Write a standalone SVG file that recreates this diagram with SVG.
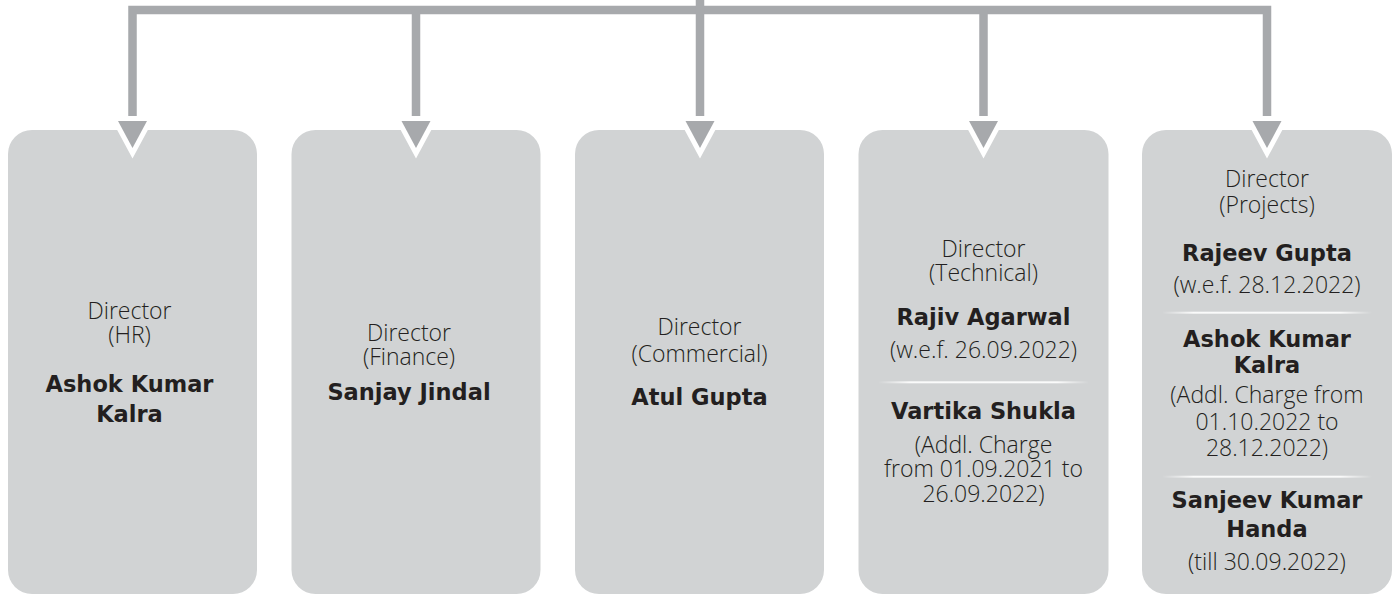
<svg xmlns="http://www.w3.org/2000/svg" xmlns:xlink="http://www.w3.org/1999/xlink" width="1396" height="595" viewBox="0 0 1396 595">
  <style>
    .box { fill: #d1d3d4; }
    .conn { fill: none; stroke: #a7a9ac; stroke-width: 8.5; stroke-linejoin: miter; stroke-linecap: butt; }
    .ah { fill: #a7a9ac; stroke: #ffffff; stroke-width: 10; stroke-linejoin: miter; paint-order: stroke fill; }
    .t { font-family: "Open Sans", "Noto Sans", sans-serif; font-weight: 300; font-size: 23px; fill: #231f20; text-anchor: middle; }
    .b { font-family: "DejaVu Sans", "Liberation Sans", sans-serif; font-weight: bold; font-size: 22.5px; fill: #231f20; text-anchor: middle; }
    .sep { fill: url(#sepg); }
  </style>
  <defs>
    <linearGradient id="sepg" x1="0" y1="0" x2="1" y2="0">
      <stop offset="0" stop-color="#ffffff" stop-opacity="0"/>
      <stop offset="0.15" stop-color="#ffffff" stop-opacity="0.9"/>
      <stop offset="0.85" stop-color="#ffffff" stop-opacity="0.9"/>
      <stop offset="1" stop-color="#ffffff" stop-opacity="0"/>
    </linearGradient>
    <path id="arrowhead" class="ah" d="M -14.5 0 L 14.5 0 L 0 27 Z"/>
  </defs>

  <g id="node-hr">
    <rect class="box" x="8" y="130" width="249" height="464" rx="24" ry="24"/>
    <text class="t" x="129.5" y="319.3">Director</text>
    <text class="t" x="129.5" y="343.3">(HR)</text>
    <text class="b" x="129.5" y="391.7">Ashok Kumar</text>
    <text class="b" x="129.5" y="421.7">Kalra</text>
  </g>

  <g id="node-finance">
    <rect class="box" x="291.5" y="130" width="249" height="464" rx="24" ry="24"/>
    <text class="t" x="409" y="340.7">Director</text>
    <text class="t" x="409" y="365">(Finance)</text>
    <text class="b" x="409" y="400">Sanjay Jindal</text>
  </g>

  <g id="node-commercial">
    <rect class="box" x="575" y="130" width="249" height="464" rx="24" ry="24"/>
    <text class="t" x="699.5" y="335">Director</text>
    <text class="t" x="699.5" y="362">(Commercial)</text>
    <text class="b" x="699.5" y="405">Atul Gupta</text>
  </g>

  <g id="node-technical">
    <rect class="box" x="858.5" y="130" width="250" height="464" rx="24" ry="24"/>
    <text class="t" x="983.5" y="256.7">Director</text>
    <text class="t" x="983.5" y="280.7">(Technical)</text>
    <text class="b" x="983.5" y="325">Rajiv Agarwal</text>
    <text class="t" x="983.5" y="358.3">(w.e.f. 26.09.2022)</text>
    <rect class="sep" x="878" y="381.3" width="211" height="2"/>
    <text class="b" x="983.5" y="419.3">Vartika Shukla</text>
    <text class="t" x="983.5" y="452.7">(Addl. Charge</text>
    <text class="t" x="983.5" y="477.3">from 01.09.2021 to</text>
    <text class="t" x="983.5" y="501.7">26.09.2022)</text>
  </g>

  <g id="node-projects">
    <rect class="box" x="1142" y="130" width="250" height="464" rx="24" ry="24"/>
    <text class="t" x="1267" y="187.3">Director</text>
    <text class="t" x="1267" y="213.3">(Projects)</text>
    <text class="b" x="1267" y="261">Rajeev Gupta</text>
    <text class="t" x="1267" y="293.3">(w.e.f. 28.12.2022)</text>
    <rect class="sep" x="1162" y="311.7" width="210" height="2"/>
    <text class="b" x="1267" y="346.7">Ashok Kumar</text>
    <text class="b" x="1267" y="372.7">Kalra</text>
    <text class="t" x="1267" y="403.3">(Addl. Charge from</text>
    <text class="t" x="1267" y="430">01.10.2022 to</text>
    <text class="t" x="1267" y="456">28.12.2022)</text>
    <rect class="sep" x="1162" y="475.7" width="210" height="2"/>
    <text class="b" x="1267" y="507.7">Sanjeev Kumar</text>
    <text class="b" x="1267" y="536.7">Handa</text>
    <text class="t" x="1267" y="570">(till 30.09.2022)</text>
  </g>

  <g id="connectors">
    <path class="conn" d="M 132.5 116 V 10 H 1267 V 116"/>
    <path class="conn" d="M 416 10 V 116"/>
    <path class="conn" d="M 700 0 V 116"/>
    <path class="conn" d="M 983.5 10 V 116"/>
    <use xlink:href="#arrowhead" x="132.5" y="121"/>
    <use xlink:href="#arrowhead" x="416" y="121"/>
    <use xlink:href="#arrowhead" x="700" y="121"/>
    <use xlink:href="#arrowhead" x="983.5" y="121"/>
    <use xlink:href="#arrowhead" x="1267" y="121"/>
  </g>
</svg>
